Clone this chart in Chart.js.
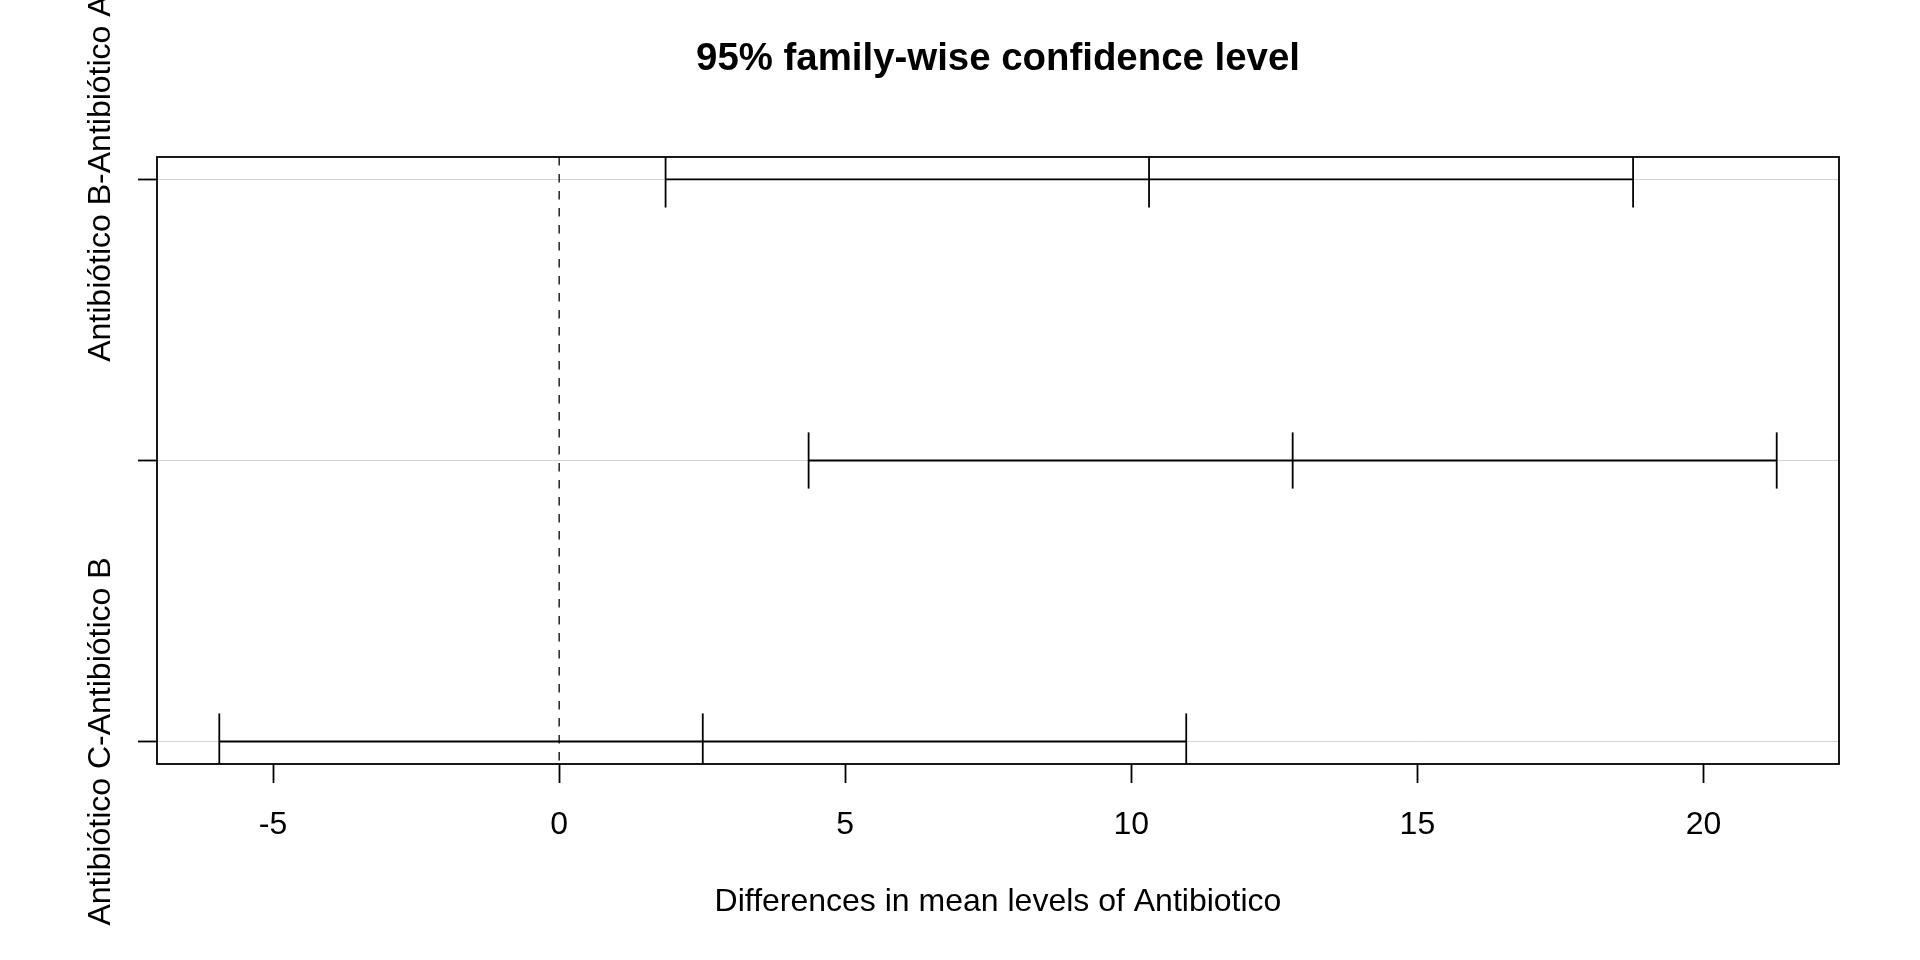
<!DOCTYPE html>
<html><head><meta charset="utf-8">
<script src="https://cdn.jsdelivr.net/npm/chart.js@4.4.1/dist/chart.umd.min.js"></script>
<style>html,body{margin:0;padding:0;background:#fff}#wrap{width:1920px;height:960px;position:relative}</style>
</head><body><div id="wrap"><canvas id="c"></canvas></div>
<script>
// ---- data (TukeyHSD intervals) ----
const comparisons = ["Antibiótico B-Antibiótico A", "Antibiótico C-Antibiótico A", "Antibiótico C-Antibiótico B"];
const diffValues  = [10.31, 12.82, 2.51];
const lowerValues = [1.86, 4.36, -5.94];
const upperValues = [18.77, 21.28, 10.96];
const yPositions  = [3, 2, 1];
const xTickValues = [-5, 0, 5, 10, 15, 20];
const yLabelShown = [true, false, true];   // R omits the overlapping middle label
const titleText   = "95% family-wise confidence level";
const xAxisTitle  = "Differences in mean levels of Antibiotico";

// ---- ranges (R's default 4% extension) ----
const xLo = Math.min(...lowerValues), xHi = Math.max(...upperValues);
const xPad = 0.04 * (xHi - xLo);
const yLo = Math.min(...yPositions), yHi = Math.max(...yPositions);
const yPad = 0.04 * (yHi - yLo);
const xMin = xLo - xPad, xMax = xHi + xPad, yMin = yLo - yPad, yMax = yHi + yPad;

const FONT = '"Liberation Sans", Arial, Helvetica, sans-serif';
const AX = 32;
const LW = 1.8;

// measure the rotated y labels so they can be centred on their ticks
const mctx = document.createElement('canvas').getContext('2d');
mctx.font = AX + 'px ' + FONT;
const yLabelW = Math.max(...comparisons.map(s => mctx.measureText(s).width));

const datasets = [];
datasets.push({
  data: [{x: 0, y: yMax}, {x: 0, y: yMin}],
  borderColor: '#000', borderWidth: 1.3, borderDash: [8.5, 8.5]
});
comparisons.forEach((name, i) => {
  const y = yPositions[i];
  datasets.push({ data: [{x: lowerValues[i], y}, {x: upperValues[i], y}], borderColor: '#000', borderWidth: LW });
  [lowerValues[i], diffValues[i], upperValues[i]].forEach(v => {
    datasets.push({ data: [{x: v, y: y - 0.1}, {x: v, y: y + 0.1}], borderColor: '#000', borderWidth: LW });
  });
});
datasets.forEach(d => { d.showLine = true; d.pointRadius = 0; d.clip = 0; d.fill = false; d.tension = 0; });

const boxPlugin = {
  id: 'box',
  afterDatasetsDraw(chart) {
    const {ctx, chartArea: a} = chart;
    ctx.save();
    ctx.strokeStyle = '#000'; ctx.lineWidth = LW;
    ctx.strokeRect(a.left, a.top, a.right - a.left, a.bottom - a.top);
    ctx.restore();
  }
};

new Chart(document.getElementById('c'), {
  type: 'scatter',
  data: { datasets },
  plugins: [boxPlugin],
  options: {
    responsive: true, maintainAspectRatio: false, animation: false,
    layout: { padding: { left: 0, right: 81, top: 0, bottom: 0 } },
    plugins: {
      legend: { display: false },
      tooltip: { enabled: false },
      title: {
        display: true, text: titleText, color: '#000', fullSize: false,
        font: { family: FONT, size: 38.4, weight: 'bold', lineHeight: 1.2 },
        padding: { top: 36, bottom: 74.9 }
      }
    },
    scales: {
      x: {
        type: 'linear', min: xMin, max: xMax,
        afterBuildTicks: s => { s.ticks = xTickValues.map(v => ({value: v})); },
        afterFit: s => { s.height = 196; },
        ticks: { color: '#000', font: { family: FONT, size: AX }, padding: 23, autoSkip: false, maxRotation: 0,
                 callback: v => String(v) },
        grid: { drawOnChartArea: false, drawTicks: true, tickLength: 19, tickColor: '#000', tickWidth: LW },
        border: { display: false },
        title: { display: true, text: xAxisTitle, color: '#000', font: { family: FONT, size: AX, lineHeight: 1.2 },
                 padding: { top: 0, bottom: 38.6 } }
      },
      y: {
        type: 'linear', min: yMin, max: yMax,
        afterBuildTicks: s => { s.ticks = yPositions.map(v => ({value: v})); },
        afterFit: s => { s.width = 157; },
        ticks: {
          color: '#000', font: { family: FONT, size: AX }, padding: 37, autoSkip: false,
          minRotation: 90, maxRotation: 90, labelOffset: -yLabelW / 2,
          callback: v => { const i = yPositions.indexOf(v); return (i >= 0 && yLabelShown[i]) ? comparisons[i] : ''; }
        },
        grid: { color: '#d3d3d3', lineWidth: 1, drawTicks: true, tickLength: 19, tickColor: '#000', tickWidth: LW },
        border: { display: false }
      }
    }
  }
});
</script>
</body></html>
